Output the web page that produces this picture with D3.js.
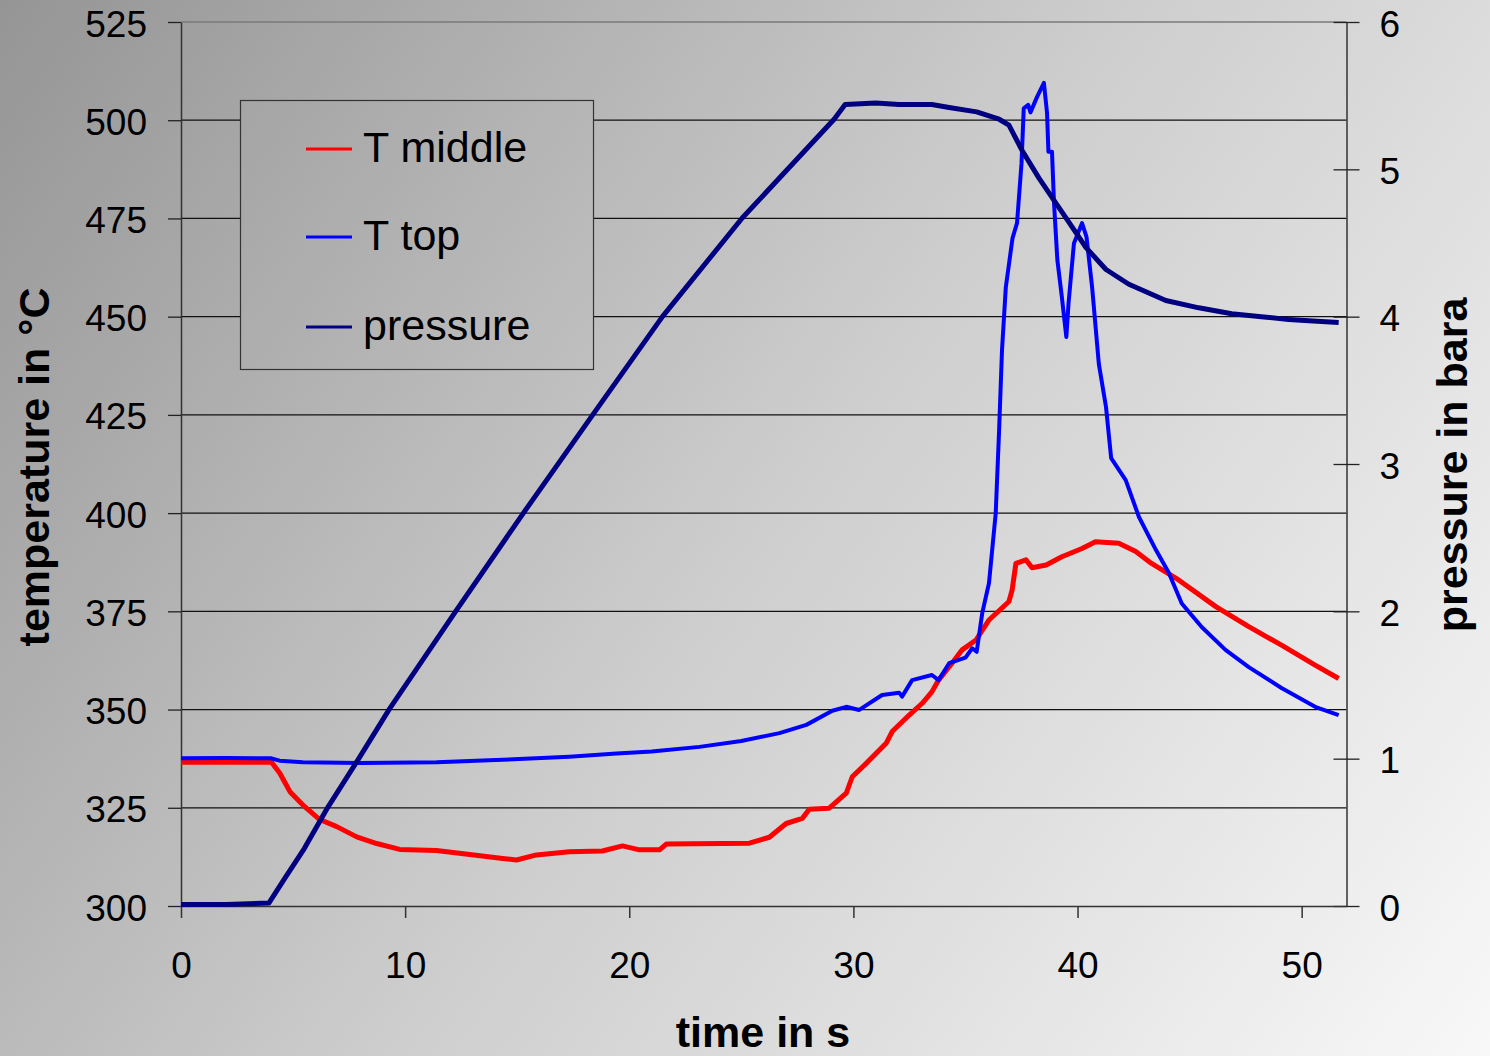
<!DOCTYPE html>
<html>
<head>
<meta charset="utf-8">
<script src="https://cdn.jsdelivr.net/npm/d3@7"></script>
<style>
    body { margin: 0; overflow: hidden; }
    svg { display: block; font-family: "Liberation Sans", Arial, sans-serif; }
</style>
</head>
<body>
<script>
// time in s / value
const middleTime = [0, 4.04, 4.41, 4.86, 5.44, 6.19, 6.95, 7.84, 8.73, 9.76, 11.4, 12.88, 14.35, 14.97,
    15.86, 17.33, 18.8, 19.7, 20.45, 21.35, 21.66, 25.36, 26.25, 27, 27.72, 28.03, 28.92, 29.68, 29.95,
    30.57, 31.46, 31.73, 32.49, 33.07, 33.5, 33.8, 34.4, 34.85, 35.47, 36.05, 36.94, 37.08, 37.25, 37.7,
    37.97, 38.6, 39.3, 40.2, 40.8, 41.84, 42.6, 43.3, 44.4, 46.17, 47.64, 49.1, 50.6, 51.65];
const middleTemp = [336.6, 336.6, 333.8, 329.1, 325.7, 322, 320.2, 317.6, 315.9, 314.4, 314.1, 313.1, 312.1, 311.7,
    313, 313.8, 314, 315.3, 314.3, 314.3, 315.8, 316, 317.5, 321, 322.3, 324.6, 324.9, 328.7, 332.9,
    336.3, 341.4, 344.4, 348.6, 351.6, 354.5, 357.5, 361.8, 365.2, 367.7, 372.8, 377.5, 380.4, 387.2, 388.1,
    386.1, 386.8, 388.9, 391, 392.7, 392.3, 390.2, 387.2, 383.4, 376.2, 371.1, 366.4, 361.3, 357.9];

const topTime = [0, 2, 4.0, 4.4, 5.44, 8, 11.4, 14.35, 17.33, 19.43, 21, 23.13, 25, 26.7, 27.9, 29.06,
    29.68, 30.26, 31.28, 32.04, 32.17, 32.62, 33.5, 33.8, 34.27, 35.0, 35.3, 35.5, 35.75, 36.05, 36.35,
    36.5, 36.63, 36.8, 37.1, 37.3, 37.5, 37.6, 37.8, 37.9, 38.2, 38.5, 38.64, 38.7, 38.86, 38.95, 39.1,
    39.3, 39.5, 39.6, 39.84, 40.2, 40.4, 40.65, 40.95, 41.27, 41.5, 42.15, 42.74, 43.5, 44.07, 44.65,
    45.54, 46.6, 47.64, 49.1, 50.6, 51.65];
const topTemp = [337.6, 337.7, 337.6, 337.0, 336.6, 336.4, 336.6, 337.2, 338.0, 338.8, 339.3, 340.5, 342, 344.0, 346.1, 349.7,
    350.7, 349.9, 353.7, 354.3, 353.3, 357.5, 358.8, 357.5, 361.8, 363.2, 365.6, 364.7, 374.6, 382.2, 400,
    421, 441.5, 457.5, 470, 473.8, 489, 503, 503.9, 502, 506, 509.5, 501.8, 492, 492, 479, 464.4,
    455, 444.8, 453.5, 468.7, 473.8, 470.3, 457.5, 438, 427, 414, 408.4, 399, 390.6, 384.8, 377,
    371, 365.2, 360.8, 355.5, 350.7, 348.6];

const pressTime = [0, 2, 3.92, 4.6, 5.5, 6.55, 7.93, 9.31, 12.3, 15.29, 18.4, 21.48, 25.04, 29.14, 29.63,
    31, 32.04, 33.5, 34.27, 35.5, 36.5, 36.94, 37.52, 38.28, 38.86, 39.62, 40.37, 41.27, 42.29, 43.94,
    45.41, 46.88, 48.2, 49.42, 50.5, 51.65];
const pressure = [0.01, 0.01, 0.02, 0.18, 0.39, 0.67, 1.00, 1.34, 2.01, 2.67, 3.34, 4.00, 4.67, 5.34, 5.44,
    5.45, 5.44, 5.44, 5.42, 5.39, 5.34, 5.30, 5.13, 4.94, 4.81, 4.64, 4.47, 4.32, 4.22, 4.11,
    4.06, 4.02, 4.00, 3.98, 3.97, 3.96];

const timeTicks = [0, 10, 20, 30, 40, 50];
const tempTicks = [300, 325, 350, 375, 400, 425, 450, 475, 500, 525];
const pressTicks = [0, 1, 2, 3, 4, 5, 6];

const seriesNames = ["T middle", "T top", "pressure"];
const seriesColors = ["#ff0000", "#0000ff", "#000080"];

window.onload = function () {
    chart();
}

function chart() {
    const width = 1490;
    const height = 1056;
    const margin = {top: 22, right: 143, bottom: 150, left: 181};

    const svg = d3.select("body")
        .append("svg")
        .attr("width", width)
        .attr("height", height)
        .attr("viewBox", [0, 0, width, height]);

    const grad = svg.append("defs")
        .append("linearGradient")
        .attr("id", "bg")
        .attr("gradientUnits", "userSpaceOnUse")
        .attr("x1", 0).attr("y1", 0)
        .attr("x2", width).attr("y2", height);
    grad.append("stop").attr("offset", 0).attr("stop-color", "#959595");
    grad.append("stop").attr("offset", 0.5).attr("stop-color", "#cdcdcd");
    grad.append("stop").attr("offset", 1).attr("stop-color", "#f8f8f8");

    svg.append("rect")
        .attr("width", width)
        .attr("height", height)
        .attr("fill", "url(#bg)");

    const x = d3.scaleLinear()
        .domain([0, 52])
        .range([margin.left, width - margin.right - 0.5]);

    const y = d3.scaleLinear()
        .domain([300, 525])
        .range([height - margin.bottom, margin.top]);

    const y2 = d3.scaleLinear()
        .domain([0, 6])
        .range([height - margin.bottom, margin.top]);

    const x0 = x.range()[0], x1 = x.range()[1];

    // gridlines
    svg.append("g")
        .selectAll("line")
        .data(tempTicks.slice(1))
        .join("line")
        .attr("x1", x0)
        .attr("x2", x1)
        .attr("y1", d => y(d))
        .attr("y2", d => y(d))
        .attr("stroke", d => d === 525 ? "#7a7a7a" : "#111")
        .attr("stroke-width", 1.3);

    const tickFont = g => g
        .attr("font-family", "Liberation Sans, Arial, sans-serif")
        .attr("font-size", 37)
        .call(g => g.selectAll("text").attr("fill", "#000"));

    // left axis
    svg.append("g")
        .attr("transform", `translate(${x0},0)`)
        .call(d3.axisLeft(y).tickValues(tempTicks).tickSize(13).tickPadding(21).tickSizeOuter(0))
        .call(tickFont)
        .call(g => g.select(".domain").attr("stroke", "#333").attr("stroke-width", 1.5))
        .call(g => g.selectAll(".tick line").attr("stroke", "#222").attr("stroke-width", 1.3))
        .call(g => g.selectAll(".tick text").attr("dy", "0.38em"));

    // right axis, ticks cross the line
    svg.append("g")
        .attr("transform", `translate(${x1},0)`)
        .call(d3.axisRight(y2).tickValues(pressTicks).tickFormat(d3.format("d"))
            .tickSize(13).tickPadding(20).tickSizeOuter(0))
        .call(tickFont)
        .call(g => g.select(".domain").attr("stroke", "#333").attr("stroke-width", 1.5))
        .call(g => g.selectAll(".tick line").attr("x1", -13).attr("stroke", "#222").attr("stroke-width", 1.3))
        .call(g => g.selectAll(".tick text").attr("dy", "0.38em"));

    // bottom axis
    svg.append("g")
        .attr("transform", `translate(0,${y.range()[0]})`)
        .call(d3.axisBottom(x).tickValues(timeTicks).tickSize(12).tickPadding(34).tickSizeOuter(0))
        .call(tickFont)
        .call(g => g.select(".domain").attr("stroke", "#333").attr("stroke-width", 1.5))
        .call(g => g.selectAll(".tick line").attr("stroke", "#333").attr("stroke-width", 1.5));

    // series
    const line = (sx, sy) => d3.line()
        .x(d => sx(d[0]))
        .y(d => sy(d[1]));

    const middle = middleTime.map((t, i) => [t, middleTemp[i]]);
    const top = topTime.map((t, i) => [t, topTemp[i]]);
    const press = pressTime.map((t, i) => [t, pressure[i]]);

    svg.append("path")
        .datum(middle)
        .attr("fill", "none")
        .attr("stroke", seriesColors[0])
        .attr("stroke-width", 5)
        .attr("stroke-linejoin", "round")
        .attr("d", line(x, y));

    svg.append("path")
        .datum(top)
        .attr("fill", "none")
        .attr("stroke", seriesColors[1])
        .attr("stroke-width", 4)
        .attr("stroke-linejoin", "round")
        .attr("d", line(x, y));

    svg.append("path")
        .datum(press)
        .attr("fill", "none")
        .attr("stroke", seriesColors[2])
        .attr("stroke-width", 5)
        .attr("stroke-linejoin", "round")
        .attr("d", line(x, y2));

    // legend
    const legend = svg.append("g");
    legend.append("rect")
        .attr("x", 240.5)
        .attr("y", 100.5)
        .attr("width", 353)
        .attr("height", 269)
        .attr("fill", "url(#bg)")
        .attr("stroke", "#333")
        .attr("stroke-width", 1.2);

    const rowY = [149, 237, 327];
    const item = legend.selectAll("g.item")
        .data(seriesNames)
        .join("g")
        .attr("class", "item")
        .attr("transform", (d, i) => `translate(0,${rowY[i]})`);
    item.append("line")
        .attr("x1", 306)
        .attr("x2", 352)
        .attr("stroke", (d, i) => seriesColors[i])
        .attr("stroke-width", 3);
    item.append("text")
        .attr("x", 363)
        .attr("y", 13)
        .attr("font-size", 43)
        .attr("fill", "#000")
        .text(d => d);

    // axis titles
    svg.append("text")
        .attr("transform", `translate(49,467) rotate(-90)`)
        .attr("text-anchor", "middle")
        .attr("font-size", 43)
        .attr("font-weight", "bold")
        .text("temperature in °C");

    svg.append("text")
        .attr("transform", `translate(1467,465) rotate(-90)`)
        .attr("text-anchor", "middle")
        .attr("font-size", 43)
        .attr("font-weight", "bold")
        .text("pressure in bara");

    svg.append("text")
        .attr("x", 763)
        .attr("y", 1047)
        .attr("text-anchor", "middle")
        .attr("font-size", 43)
        .attr("font-weight", "bold")
        .text("time in s");
}
</script>
</body>
</html>
